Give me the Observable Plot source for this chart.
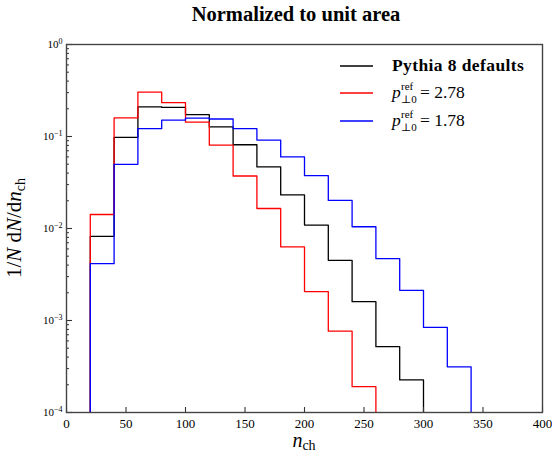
<!DOCTYPE html>
<html><head><meta charset="utf-8">
<script src="https://cdn.jsdelivr.net/npm/d3@7"></script>
<script src="https://cdn.jsdelivr.net/npm/@observablehq/plot@0.6"></script>
<style>
body{margin:0;background:#fff} #c{width:552px;height:452px}
#c svg, #c svg text, #c svg tspan { font-family: "Liberation Serif", "DejaVu Serif", serif; }
</style>
</head><body><div id="c"></div>
<script>
// ---- data ----
const binEdges = [20,40,60,80,100,120,140,160,180,200,220,240,260,280,300,320,340];
const pythiaDefaults = [0.0082,0.098,0.21,0.207,0.173,0.127,0.0813,0.0467,0.0232,0.0109,0.00451,0.0016,0.00052,0.000226];
const pRef278 = [0.0142,0.159,0.304,0.233,0.143,0.0807,0.0372,0.0165,0.0063,0.00206,0.000766,0.000191];
const pRef178 = [0.00415,0.0499,0.1217,0.151,0.158,0.155,0.1217,0.0915,0.060,0.0375,0.0202,0.01045,0.00471,0.00213,0.00084,0.000314];
const seriesNames = ["Pythia 8 defaults","pref 2.78","pref 1.78"];
const seriesColors = ["#000000","#ff0000","#0000ff"];
const legendValues = [null,"2.78","1.78"];
const xTicks = [0,50,100,150,200,250,300,350,400];
const yTicks = [1e-4,1e-3,1e-2,1e-1,1];
const yTickExp = ["\u22124","\u22123","\u22122","\u22121","0"];
const yFloor = 1e-4;

function stepRows(name, vals) {
  const rows = [{series:name, x: binEdges[0], y: yFloor}];
  vals.forEach((v,i) => rows.push({series:name, x: binEdges[i], y: v}));
  rows.push({series:name, x: binEdges[vals.length], y: yFloor});
  return rows;
}
const rows = [
  ...stepRows(seriesNames[0], pythiaDefaults),
  ...stepRows(seriesNames[1], pRef278),
  ...stepRows(seriesNames[2], pRef178)
];
const minorTicks = [];
for (let e = -4; e < 0; e++) for (let k = 2; k <= 9; k++) minorTicks.push(k * Math.pow(10, e));

const W = 552, H = 452, mL = 66, mR = 10, mT = 44, mB = 40;
const plotW = W - mL - mR, plotH = H - mT - mB;

const chart = Plot.plot({
  width: W, height: H,
  marginLeft: mL, marginRight: mR, marginTop: mT, marginBottom: mB,
  style: {background: "#fff", color: "#000"},
  x: {domain: [0, 400]},
  y: {type: "log", domain: [1e-4, 1]},
  color: {domain: seriesNames, range: seriesColors},
  marks: [
    Plot.line(rows, {x: "x", y: "y", z: "series", stroke: "series", curve: "step-after", strokeWidth: 1.3, clip: true}),
    Plot.tickX(xTicks, {x: d => d, insetTop: plotH - 5, stroke: "#333", strokeWidth: 1.1}),
    Plot.tickY(yTicks, {y: d => d, insetRight: plotW - 6, stroke: "#333", strokeWidth: 1.1}),
    Plot.tickY(minorTicks, {y: d => d, insetRight: plotW - 3, stroke: "#333", strokeWidth: 1}),
    Plot.frame({stroke: "#444", strokeWidth: 1.4}),
    Plot.axisX({ticks: xTicks, tickSize: 0, tickPadding: 6, fontSize: 13, tickFormat: d => String(d), label: null}),
    Plot.axisY({ticks: yTicks, tickSize: 0, tickPadding: 4, fontSize: 11, tickFormat: () => "10", label: null})
  ]
});

const svg = d3.select(chart);
svg.selectAll('g[aria-label="y-axis tick label"] text').each(function(d, i) {
  d3.select(this).append("tspan").attr("dy", "-0.5em").attr("font-size", 8).text(yTickExp[i]);
});

// title
svg.append("text").attr("x", 296).attr("y", 21).attr("text-anchor", "middle")
  .attr("font-size", 20.5).attr("font-weight", "bold")
  .text("Normalized to unit area");

// x label
const xl = svg.append("text").attr("x", 304).attr("y", 447).attr("text-anchor", "middle")
  .attr("font-size", 20);
xl.append("tspan").attr("font-style", "italic").text("n");
xl.append("tspan").attr("font-size", 14).attr("dy", 3).text("ch");

// y label
const yl = svg.append("text").attr("transform", "translate(21,228) rotate(-90)").attr("text-anchor", "middle")
  .attr("font-size", 21);
yl.append("tspan").text("1/");
yl.append("tspan").attr("font-style", "italic").text("N");
yl.append("tspan").text(" d");
yl.append("tspan").attr("font-style", "italic").text("N");
yl.append("tspan").text("/d");
yl.append("tspan").attr("font-style", "italic").text("n");
yl.append("tspan").attr("font-size", 14).attr("dy", 4).text("ch");

// legend
const legY = [66, 93, 121];
seriesNames.forEach((name, i) => {
  svg.append("line").attr("x1", 340).attr("x2", 373).attr("y1", legY[i]).attr("y2", legY[i])
    .attr("stroke", seriesColors[i]).attr("stroke-width", 1.4);
  const t = svg.append("text").attr("x", 392).attr("y", legY[i] + 5).attr("text-anchor", "start")
    .attr("font-size", 17.5);
  if (legendValues[i] === null) {
    t.attr("font-weight", "bold").attr("letter-spacing", 0.4).text(name);
  } else {
    t.append("tspan").attr("font-style", "italic").text("p");
    t.append("tspan").attr("x", 401).attr("dy", -8).attr("font-size", 11).text("ref");
    t.append("tspan").attr("x", 401).attr("dy", 13).attr("font-size", 11).text("\u22a50");
    t.append("tspan").attr("x", 420).attr("dy", -5).text("= " + legendValues[i]);
  }
});

document.getElementById("c").appendChild(chart);
</script>
</body></html>
